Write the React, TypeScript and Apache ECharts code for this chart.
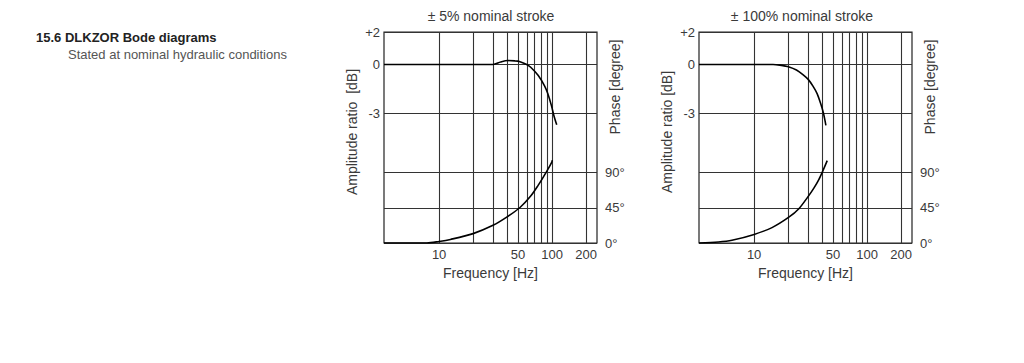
import React, { useEffect, useRef } from "react";
import * as echarts from "echarts";

// ---- axis definitions ----
const freqLabels = [10, 50, 100, 200];
const freqGrid = [10, 20, 30, 40, 50, 60, 70, 80, 90, 100, 200];
const freqMin = 3.25;
const freqMax = 250;
const ampLabels = [-3, 0, 2];
const ampGrid = [-3, 0, 2];
const ampMin = -11;
const ampMax = 2;
const phaseLabels = [0, 45, 90];
const phaseGrid = [0, 45, 90];
const phaseMin = 0;
const phaseMax = 270;

// ---- texts ----
const heading = "15.6 DLKZOR Bode diagrams";
const subheading = "Stated at nominal hydraulic conditions";
const panelTitles = ["± 5% nominal stroke", "± 100% nominal stroke"];
const ampNames = ["Amplitude ratio  [dB]", "Amplitude ratio [dB]"];
const phaseName = "Phase [degree]";
const freqName = "Frequency [Hz]";

// ---- data: ±5% stroke ----
const leftAmpFreq = [3.25, 10, 20, 30, 35, 40.5, 47, 52, 59.6, 64.7, 75.5, 86, 91.6, 98.6, 104, 110];
const leftAmpDb = [0, 0, 0, 0, 0.15, 0.24, 0.22, 0.17, 0, -0.17, -0.68, -1.33, -1.79, -2.52, -3.17, -3.72];
const leftPhaseFreq = [3.25, 7.8, 10, 12.6, 20, 30, 40, 52, 64.7, 75.5, 84.6, 90.8, 99, 100.6];
const leftPhaseDeg = [0, 0, 2, 4.6, 12, 22.6, 33.4, 45.4, 60, 74, 85.6, 93, 102.8, 106];

// ---- data: ±100% stroke ----
const rightAmpFreq = [3.25, 10, 14.7, 16.9, 20.4, 23.7, 27.2, 30.1, 33.3, 36.2, 38.7, 40.9, 42.3, 43.2];
const rightAmpDb = [0, 0, 0, -0.04, -0.15, -0.34, -0.64, -0.92, -1.35, -1.81, -2.38, -2.94, -3.41, -3.75];
const rightPhaseFreq = [3.25, 4.83, 6.36, 10, 14.4, 20.3, 24.9, 29.7, 33.8, 37.4, 40.6, 44.4];
const rightPhaseDeg = [0, 1.3, 3.5, 11, 19.7, 33, 43.9, 58.4, 70.3, 81.2, 92.3, 105.4];

const FONT = "'Liberation Sans', Arial, sans-serif";
const TEXT = "#3a3a3a";
const GRIDLINE = "#333";

const zip = (xs: number[], ys: number[]) => xs.map((x, i) => [x, ys[i]]);

const panels = [
  { left: 384, center: 491, amp: zip(leftAmpFreq, leftAmpDb), phase: zip(leftPhaseFreq, leftPhaseDeg) },
  { left: 699, center: 802, amp: zip(rightAmpFreq, rightAmpDb), phase: zip(rightPhaseFreq, rightPhaseDeg) },
];
const PLOT_TOP = 32;
const PLOT_W = 213;
const PLOT_H = 211;

export default function App() {
  const ref = useRef<HTMLDivElement>(null);

  useEffect(() => {
    if (!ref.current) return;
    const chart = echarts.init(ref.current, undefined, { renderer: "svg" });

    const grids: any[] = [];
    const xAxes: any[] = [];
    const yAxes: any[] = [];
    const series: any[] = [];
    const titles: any[] = [];
    const graphics: any[] = [
      {
        type: "text",
        left: 36,
        top: 31,
        style: { text: heading, font: `bold 13px ${FONT}`, fill: "#222" },
      },
      {
        type: "text",
        left: 68,
        top: 48,
        style: { text: subheading, font: `13px ${FONT}`, fill: "#555" },
      },
    ];

    panels.forEach((p, i) => {
      grids.push({
        left: p.left,
        top: PLOT_TOP,
        width: PLOT_W,
        height: PLOT_H,
        show: true,
        borderColor: "#222",
        borderWidth: 1.2,
      });
      titles.push({
        text: panelTitles[i],
        left: p.center,
        top: 9,
        textAlign: "center",
        padding: 0,
        textStyle: { fontFamily: FONT, fontSize: 14, fontWeight: "normal", color: TEXT },
      });
      xAxes.push({
        gridIndex: i,
        type: "log",
        logBase: 10,
        min: freqMin,
        max: freqMax,
        name: freqName,
        nameLocation: "middle",
        nameGap: 18,
        nameTextStyle: { fontFamily: FONT, fontSize: 14, color: TEXT },
        axisLine: { show: false },
        axisTick: { show: false, customValues: freqGrid },
        axisLabel: {
          customValues: freqLabels,
          margin: 5,
          fontFamily: FONT,
          fontSize: 13,
          color: TEXT,
          formatter: (v: number) => String(Math.round(v)),
        },
        splitLine: { show: true, lineStyle: { color: GRIDLINE, width: 1.1 } },
      });
      yAxes.push({
        gridIndex: i,
        type: "value",
        position: "left",
        min: ampMin,
        max: ampMax,
        axisLine: { show: false },
        axisTick: { show: false, customValues: ampGrid },
        axisLabel: {
          customValues: ampLabels,
          margin: 4,
          fontFamily: FONT,
          fontSize: 13,
          color: TEXT,
          formatter: (v: number) => (v > 0 ? "+" + v : String(v)),
        },
        splitLine: { show: true, lineStyle: { color: GRIDLINE, width: 1.1 } },
      });
      yAxes.push({
        gridIndex: i,
        type: "value",
        position: "right",
        min: phaseMin,
        max: phaseMax,
        axisLine: { show: false },
        axisTick: { show: false, customValues: phaseGrid },
        axisLabel: {
          customValues: phaseLabels,
          margin: 8,
          fontFamily: FONT,
          fontSize: 13,
          color: TEXT,
          formatter: (v: number) => v + "°",
        },
        splitLine: { show: true, lineStyle: { color: GRIDLINE, width: 1.1 } },
      });
      series.push({
        type: "line",
        xAxisIndex: i,
        yAxisIndex: i * 2,
        data: p.amp,
        smooth: 0.3,
        symbol: "none",
        lineStyle: { color: "#000", width: 1.6 },
      });
      series.push({
        type: "line",
        xAxisIndex: i,
        yAxisIndex: i * 2 + 1,
        data: p.phase,
        smooth: 0.3,
        symbol: "none",
        lineStyle: { color: "#000", width: 1.6 },
      });
      graphics.push({
        type: "text",
        x: p.left - 32,
        y: 132,
        rotation: Math.PI / 2,
        style: {
          text: ampNames[i],
          font: `14px ${FONT}`,
          fill: TEXT,
          textAlign: "center",
          textVerticalAlign: "middle",
        },
      });
      graphics.push({
        type: "text",
        x: p.left + PLOT_W + 18,
        y: 87,
        rotation: Math.PI / 2,
        style: {
          text: phaseName,
          font: `14px ${FONT}`,
          fill: TEXT,
          textAlign: "center",
          textVerticalAlign: "middle",
        },
      });
    });

    chart.setOption({
      animation: false,
      backgroundColor: "#fff",
      title: titles,
      grid: grids,
      xAxis: xAxes,
      yAxis: yAxes,
      series,
      graphic: graphics,
    });

    return () => chart.dispose();
  }, []);

  return (
    <div
      ref={ref}
      style={{ position: "fixed", left: 0, top: 0, width: 1024, height: 363 }}
    />
  );
}
